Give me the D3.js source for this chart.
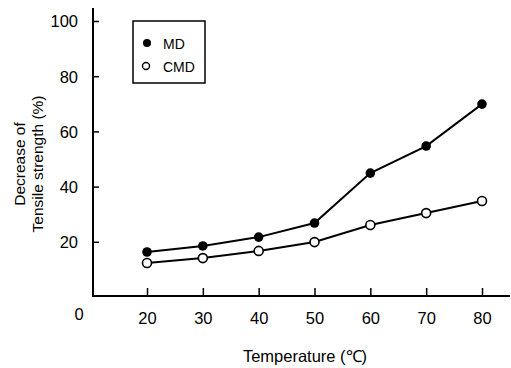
<!DOCTYPE html>
<html><head><meta charset="utf-8">
<script src="https://cdn.jsdelivr.net/npm/d3@7"></script>
<style>
body{margin:0;background:#fff;}
svg text{font-family:"Liberation Sans",Arial,sans-serif;fill:#000;}
</style></head>
<body><svg id="c" width="511" height="368"></svg>
<script>
const temperatures = [20, 30, 40, 50, 60, 70, 80];
const mdValues = [16.3, 18.5, 21.7, 26.8, 44.9, 54.7, 69.9];
const cmdValues = [12.3, 14.1, 16.7, 19.9, 26.1, 30.4, 34.8];
const yTicks = [20, 40, 60, 80, 100];
const xTicks = [20, 30, 40, 50, 60, 70, 80];
const seriesNames = ["MD", "CMD"];

const svg = d3.select("#c");
const x = d3.scaleLinear().domain([20, 80]).range([147, 482]);
const y = d3.scaleLinear().domain([0, 100]).range([297, 21]);
const axisX0 = 93, axisY0 = 296, axisXEnd = 510;
const FF = "Liberation Sans, Arial, sans-serif";

// axes lines
svg.append("line").attr("x1", axisX0).attr("x2", axisX0).attr("y1", 8).attr("y2", axisY0 + 1)
  .attr("stroke", "#000").attr("stroke-width", 2);
svg.append("line").attr("x1", axisX0).attr("x2", axisXEnd).attr("y1", axisY0).attr("y2", axisY0)
  .attr("stroke", "#000").attr("stroke-width", 2);

// y ticks
const yAxis = d3.axisLeft(y).tickValues(yTicks).tickSize(-6).tickPadding(14);
const gy = svg.append("g").attr("transform", `translate(${axisX0},0)`).call(yAxis);
gy.select(".domain").remove();
gy.selectAll(".tick line").attr("stroke", "#000").attr("stroke-width", 1.5);
gy.selectAll(".tick text").attr("font-size", 16.5).attr("font-family", FF).attr("dy", "0.36em").attr("x", -15);

// x ticks
const xAxis = d3.axisBottom(x).tickValues(xTicks).tickSize(-8).tickPadding(16);
const gx = svg.append("g").attr("transform", `translate(0,${axisY0})`).call(xAxis);
gx.select(".domain").remove();
gx.selectAll(".tick line").attr("stroke", "#000").attr("stroke-width", 1.5);
gx.selectAll(".tick text").attr("font-size", 16.5).attr("font-family", FF).attr("dy", "0").attr("y", 28);

// origin label
svg.append("text").attr("x", 79).attr("y", 320).attr("text-anchor", "middle").attr("font-size", 16.5).text("0");

// lines
const line = d3.line().x((d, i) => x(temperatures[i])).y(d => y(d));
svg.append("path").datum(mdValues).attr("d", line).attr("fill", "none").attr("stroke", "#000").attr("stroke-width", 2);
svg.append("path").datum(cmdValues).attr("d", line).attr("fill", "none").attr("stroke", "#000").attr("stroke-width", 2);

svg.selectAll("circle.md").data(mdValues).join("circle").attr("class", "md")
  .attr("cx", (d, i) => x(temperatures[i])).attr("cy", d => y(d)).attr("r", 4.8).attr("fill", "#000");
svg.selectAll("circle.cmd").data(cmdValues).join("circle").attr("class", "cmd")
  .attr("cx", (d, i) => x(temperatures[i])).attr("cy", d => y(d)).attr("r", 4.5)
  .attr("fill", "#fff").attr("stroke", "#000").attr("stroke-width", 1.6);

// legend
svg.append("rect").attr("x", 133).attr("y", 21).attr("width", 72).attr("height", 62)
  .attr("fill", "#fff").attr("stroke", "#000").attr("stroke-width", 1.5);
svg.append("circle").attr("cx", 147).attr("cy", 43).attr("r", 4).attr("fill", "#000");
svg.append("circle").attr("cx", 146).attr("cy", 66).attr("r", 3.5).attr("fill", "#fff").attr("stroke", "#000").attr("stroke-width", 1.4);
svg.append("text").attr("x", 163).attr("y", 48.5).attr("font-size", 14).text(seriesNames[0]);
svg.append("text").attr("x", 163).attr("y", 71.5).attr("font-size", 14).text(seriesNames[1]);

// axis titles
svg.append("text").attr("x", 305).attr("y", 362).attr("text-anchor", "middle").attr("font-size", 16.5).text("Temperature (\u2103)");
const yl = svg.append("text").attr("transform", "translate(0,164) rotate(-90)").attr("text-anchor", "middle").attr("font-size", 15.5);
yl.append("tspan").attr("x", 0).attr("y", 25).text("Decrease of");
yl.append("tspan").attr("x", 0).attr("y", 43).text("Tensile strength (%)");
</script></body></html>
